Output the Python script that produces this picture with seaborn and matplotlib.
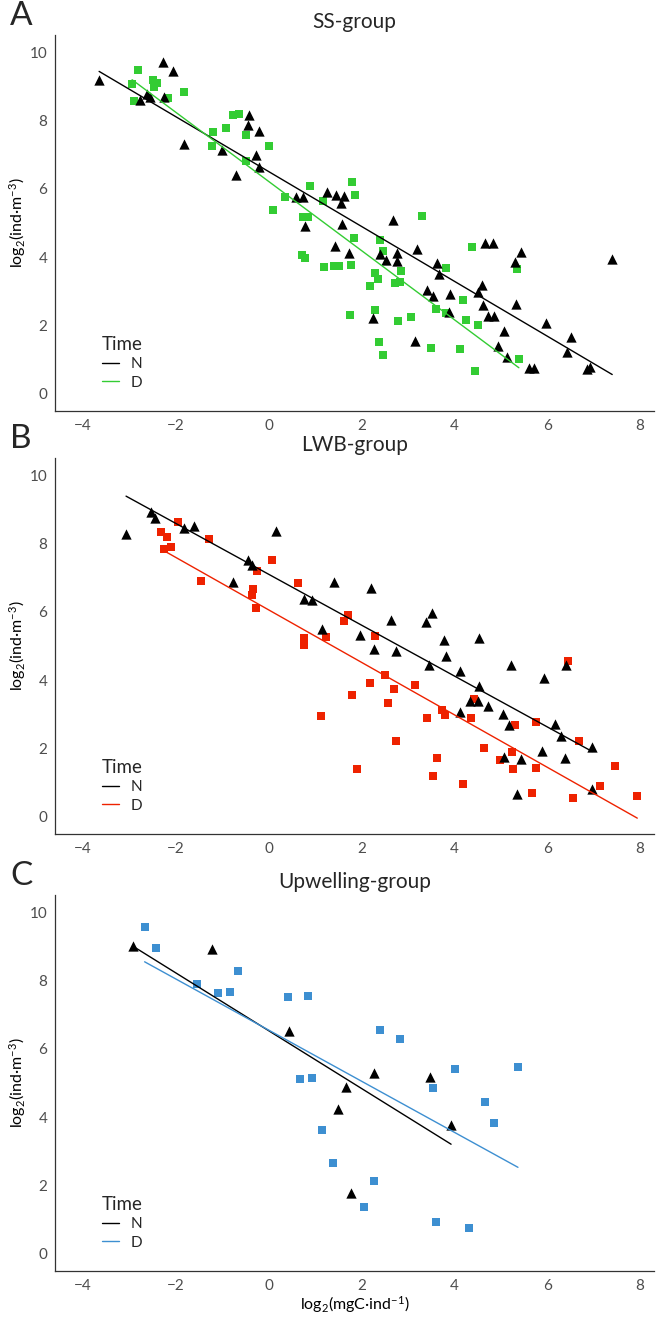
import matplotlib
matplotlib.use("Agg")
import matplotlib.pyplot as plt
from matplotlib.lines import Line2D
import seaborn as sns
import pandas as pd

# A: SS-group
ss_n_x = [-3.65, -2.28, -2.06, -2.77, -2.62, -2.55, -2.26, -1.82, -1.00, -0.70,
          -0.43, -0.44, -0.20, -0.28, -0.21, 0.59, 0.75, 1.25, 1.45, 1.63,
          1.55, 0.79, 1.59, 1.43, 1.73, 2.67, 2.40, 2.76, 2.53, 2.77,
          3.19, 3.63, 3.68, 3.41, 3.53, 3.91, 3.89, 2.24, 3.15, 4.67,
          4.84, 5.44, 5.31, 7.40, 4.60, 4.52, 4.61, 4.72, 4.85, 5.32,
          5.08, 4.95, 5.13, 5.98, 6.51, 6.42, 5.61, 5.72, 6.85, 6.93]
ss_n_y = [9.17, 9.71, 9.46, 8.60, 8.77, 8.70, 8.70, 7.32, 7.15, 6.41,
          8.17, 7.86, 7.69, 7.00, 6.65, 5.76, 5.76, 5.91, 5.81, 5.79,
          5.59, 4.91, 4.96, 4.33, 4.11, 5.10, 4.10, 4.12, 3.92, 3.90,
          4.23, 3.82, 3.51, 3.04, 2.86, 2.91, 2.41, 2.21, 1.56, 4.41,
          4.41, 4.16, 3.85, 3.95, 3.20, 2.99, 2.59, 2.27, 2.27, 2.63,
          1.85, 1.40, 1.07, 2.07, 1.66, 1.23, 0.76, 0.76, 0.72, 0.78]
ss_d_x = [-2.82, -2.94, -2.90, -2.50, -2.41, -2.47, -2.17, -1.83, -1.20, -1.21,
          -0.92, -0.76, -0.64, -0.48, 0.00, -0.48, 0.89, 0.36, 0.09, 0.74,
          0.84, 1.18, 1.79, 1.85, 1.83, 0.72, 0.79, 1.19, 1.40, 1.51,
          1.78, 1.76, 3.30, 2.39, 2.47, 2.85, 2.29, 2.35, 2.19, 2.73,
          2.84, 3.82, 4.37, 5.35, 4.19, 3.61, 3.81, 4.26, 4.50, 2.29,
          3.07, 2.78, 2.37, 2.47, 3.50, 4.12, 5.39, 4.45]
ss_d_y = [9.47, 9.07, 8.58, 9.19, 9.11, 8.97, 8.66, 8.84, 7.66, 7.26,
          7.79, 8.16, 8.20, 7.56, 7.25, 6.80, 6.08, 5.75, 5.39, 5.18,
          5.17, 5.63, 6.19, 5.82, 4.55, 4.05, 3.99, 3.72, 3.75, 3.73,
          3.76, 2.32, 5.20, 4.50, 4.17, 3.61, 3.53, 3.36, 3.16, 3.25,
          3.28, 3.67, 4.29, 3.65, 2.76, 2.48, 2.38, 2.16, 2.01, 2.45,
          2.24, 2.12, 1.53, 1.13, 1.35, 1.32, 1.02, 0.67]

# B: LWB-group
lwb_n_x = [-3.07, -2.54, -2.44, -1.83, -1.60, 0.17, -0.45, -0.36, -0.76, 0.76,
           0.94, 1.40, 1.15, 1.97, 2.21, 2.26, 2.64, 2.75, 3.39, 3.51,
           3.45, 3.77, 3.81, 4.54, 4.12, 4.53, 4.33, 4.50, 4.73, 4.13,
           5.04, 5.18, 5.21, 5.94, 6.40, 6.17, 6.30, 6.97, 5.88, 6.38,
           5.07, 5.44, 5.36, 6.96]
lwb_n_y = [8.29, 8.91, 8.74, 8.45, 8.50, 8.37, 7.51, 7.36, 6.86, 6.38,
           6.35, 6.88, 5.51, 5.31, 6.70, 4.92, 5.77, 4.86, 5.70, 5.96,
           4.45, 5.18, 4.71, 5.22, 4.26, 3.83, 3.38, 3.39, 3.25, 3.08,
           3.01, 2.68, 4.44, 4.07, 4.45, 2.71, 2.38, 2.05, 1.94, 1.71,
           1.74, 1.70, 0.66, 0.81]
lwb_d_x = [-1.95, -2.31, -2.19, -2.26, -2.11, -1.29, -1.45, 0.08, -0.25, -0.33,
           -0.36, -0.27, 0.63, 1.70, 1.63, 0.76, 0.77, 1.24, 1.80, 1.12,
           1.91, 2.29, 2.51, 2.19, 2.71, 2.57, 3.16, 2.74, 3.42, 3.74,
           3.79, 4.42, 4.36, 3.62, 3.53, 4.19, 4.64, 4.99, 5.24, 5.26,
           5.30, 5.75, 5.76, 5.68, 6.45, 6.68, 6.56, 7.14, 7.45, 7.94]
lwb_d_y = [8.63, 8.34, 8.20, 7.83, 7.91, 8.14, 6.89, 7.52, 7.20, 6.67,
           6.49, 6.10, 6.84, 5.91, 5.72, 5.22, 5.04, 5.25, 3.57, 2.96,
           1.39, 5.29, 4.14, 3.92, 3.73, 3.33, 3.85, 2.21, 2.90, 3.12,
           2.97, 3.46, 2.89, 1.73, 1.21, 0.97, 2.02, 1.67, 1.89, 1.39,
           2.68, 2.79, 1.43, 0.70, 4.55, 2.21, 0.54, 0.89, 1.49, 0.60]

# C: Upwelling-group
up_n_x = [-2.92, -1.22, 0.44, 1.49, 1.66, 1.78, 2.26, 3.48, 3.93]
up_n_y = [9.00, 8.93, 6.51, 4.23, 4.87, 1.78, 5.30, 5.18, 3.77]
up_d_x = [-2.67, -2.43, -1.54, -1.09, -0.84, -0.65, 0.42, 0.85, 0.68, 0.94,
          1.14, 1.39, 2.06, 2.26, 2.39, 2.82, 3.53, 3.60, 4.02, 4.32,
          4.66, 4.85, 5.37]
up_d_y = [9.57, 8.95, 7.91, 7.62, 7.65, 8.28, 7.53, 7.55, 5.11, 5.16,
          3.62, 2.67, 1.38, 2.12, 6.55, 6.30, 4.85, 0.93, 5.41, 0.76,
          4.45, 3.82, 5.46]

sns.set_style("white")
plt.rcParams['font.family'] = ['Lato', 'DejaVu Sans']
plt.rcParams['mathtext.default'] = 'regular'

W, H = 663, 1317
fig = plt.figure(figsize=(W / 100, H / 100), dpi=100)

panels = [
    ("A", "SS-group", ss_n_x, ss_n_y, ss_d_x, ss_d_y, "#33cc33", 35, 411),
    ("B", "LWB-group", lwb_n_x, lwb_n_y, lwb_d_x, lwb_d_y, "#ee2200", 458, 834),
    ("C", "Upwelling-group", up_n_x, up_n_y, up_d_x, up_d_y, "#3d8fd1", 895, 1271),
]

for i, (letter, title, nx, ny, dx, dy, col, top, bot) in enumerate(panels):
    ax = fig.add_axes([55 / W, 1 - bot / H, 599 / W, (bot - top) / H])
    df = pd.DataFrame({
        'x': nx + dx,
        'y': ny + dy,
        'Time': ['N'] * len(nx) + ['D'] * len(dx),
    })
    d_df = df[df['Time'] == 'D']
    n_df = df[df['Time'] == 'N']
    sns.scatterplot(data=d_df, x='x', y='y', marker='s', color=col,
                    s=34, linewidth=0, ax=ax, zorder=2)
    sns.scatterplot(data=n_df, x='x', y='y', marker='^', color='black',
                    s=55, linewidth=0, ax=ax, zorder=3)
    sns.regplot(data=n_df, x='x', y='y', scatter=False, ci=None,
                color='black', line_kws={'lw': 1.0, 'zorder': 4}, ax=ax)
    sns.regplot(data=d_df, x='x', y='y', scatter=False, ci=None,
                color=col, line_kws={'lw': 1.0, 'zorder': 4}, ax=ax)

    ax.set_xlim(-4.6, 8.3)
    ax.set_ylim(-0.5, 10.5)
    ax.set_xticks([-4, -2, 0, 2, 4, 6, 8])
    ax.set_yticks([0, 2, 4, 6, 8, 10])
    for s in ['top', 'right']:
        ax.spines[s].set_visible(False)
    for s in ['left', 'bottom']:
        ax.spines[s].set_color('#333333')
        ax.spines[s].set_linewidth(0.9)
    ax.tick_params(direction='out', length=3.5, width=0.8, color='#333333',
                   labelcolor='#4d4d4d', labelsize=11, pad=2)
    ax.set_ylabel('log$_2$(ind·m$^{-3}$)', fontsize=11.5, color='black',
                  labelpad=1)
    if i == 2:
        ax.set_xlabel('log$_2$(mgC·ind$^{-1}$)', fontsize=11.5,
                      color='black', labelpad=1)
    else:
        ax.set_xlabel('')
    ax.set_title(title, fontsize=15, pad=5)

    handles = [Line2D([0], [0], color='black', lw=1.0),
               Line2D([0], [0], color=col, lw=1.0)]
    leg = ax.legend(handles, ['N', 'D'], title='Time', loc='lower left',
                    bbox_to_anchor=(0.055, 0.02), frameon=False,
                    fontsize=11, title_fontsize=13.5, handlelength=1.1,
                    handletextpad=0.8, labelspacing=0.3, alignment='left')

    fig.text(10 / W, 1 - (top - 4) / H, letter, fontsize=24, va='bottom',
             ha='left')

fig.savefig("out.png", dpi=100)
